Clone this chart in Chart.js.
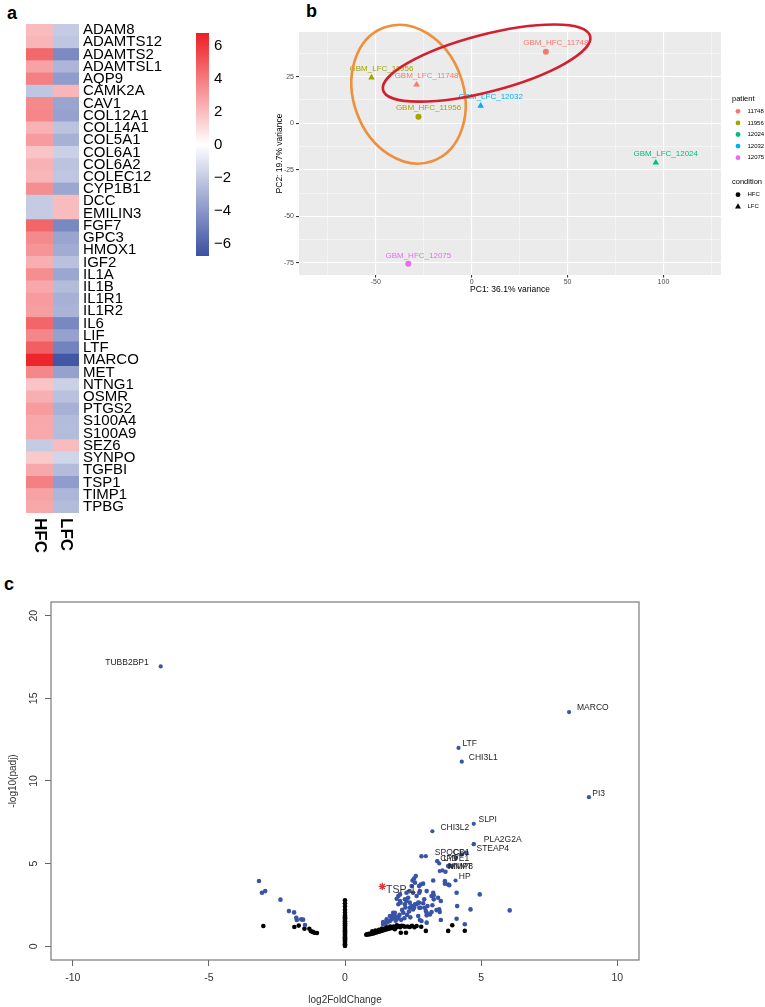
<!DOCTYPE html>
<html><head><meta charset="utf-8">
<script src="https://cdn.jsdelivr.net/npm/chart.js@4.4.1/dist/chart.umd.min.js"></script>
<style>
body{margin:0;width:765px;height:1007px;background:#fff;position:relative;overflow:hidden;font-family:"Liberation Sans",Arial,sans-serif;}
canvas{position:absolute;}
.lbl{position:absolute;font-weight:bold;font-size:18px;line-height:18px;color:#000;}
</style></head><body>
<div class="lbl" style="left:7px;top:4px">a</div>
<div class="lbl" style="left:306px;top:2px">b</div>
<div class="lbl" style="left:4px;top:575px">c</div>
<canvas id="heat" width="180" height="560" style="left:0;top:0"></canvas>
<canvas id="cbar" width="60" height="280" style="left:185px;top:0"></canvas>
<canvas id="pca" width="515" height="300" style="left:250px;top:0"></canvas>
<canvas id="volc" width="765" height="447" style="left:0;top:560px"></canvas>
<script>
// ---------- Panel a: heatmap data ----------
const genes = ['ADAM8','ADAMTS12','ADAMTS2','ADAMTSL1','AQP9','CAMK2A','CAV1','COL12A1','COL14A1','COL5A1','COL6A1','COL6A2','COLEC12','CYP1B1','DCC','EMILIN3','FGF7','GPC3','HMOX1','IGF2','IL1A','IL1B','IL1R1','IL1R2','IL6','LIF','LTF','MARCO','MET','NTNG1','OSMR','PTGS2','S100A4','S100A9','SEZ6','SYNPO','TGFBI','TSP1','TIMP1','TPBG'];
const hfcValues = [2.0,2.2,4.5,2.8,3.8,-2.2,3.5,3.6,2.3,3.0,1.8,2.3,2.2,3.4,-2.0,-2.0,4.6,3.5,3.2,2.4,3.4,2.6,3.0,2.9,4.6,3.6,4.8,6.5,3.6,1.8,2.4,3.0,2.6,2.6,-2.0,1.6,2.6,3.8,2.8,2.6];
const lfcValues = [-2.0,-2.2,-4.5,-2.8,-3.8,2.2,-3.5,-3.6,-2.3,-3.0,-1.8,-2.3,-2.2,-3.4,2.0,2.0,-4.6,-3.5,-3.2,-2.4,-3.4,-2.6,-3.0,-2.9,-4.6,-3.6,-4.8,-6.5,-3.6,-1.8,-2.4,-3.0,-2.6,-2.6,2.0,-1.6,-2.6,-3.8,-2.8,-2.6];
const heatColumns = ['HFC','LFC'];
const colorbarTicks = [-6,-4,-2,0,2,4,6];
const colorLimit = 6.75;

// ---------- Panel b: PCA data ----------
const pcaSamples = ['GBM_HFC_11748','GBM_LFC_11748','GBM_LFC_11956','GBM_HFC_11956','GBM_LFC_12032','GBM_LFC_12024','GBM_HFC_12075'];
const pcaPatient = ['11748','11748','11956','11956','12032','12024','12075'];
const pcaCondition = ['HFC','LFC','LFC','HFC','LFC','LFC','HFC'];
const pc1 = [38.7,-28.7,-52.2,-27.7,4.7,96.0,-33.0];
const pc2 = [38.4,20.7,24.5,3.5,9.4,-21.2,-75.5];
const patients = ['11748','11956','12024','12032','12075'];
const conditions = ['HFC','LFC'];
const pcaXMajor = [-50,0,50,100];
const pcaXMinor = [-75,-25,25,75,125];
const pcaYMajor = [-75,-50,-25,0,25];
const pcaYMinor = [-62.5,-37.5,-12.5,12.5,37.5];

// ---------- Panel c: volcano data ----------
const sigGenes = [[-3.16,3.95],[-3.05,3.24],[-2.93,3.34],[-2.37,2.82],[-2.06,2.13],[-1.87,2.05],[-1.79,1.73],[-1.77,1.59],[-1.61,1.63],[-1.54,1.61],[-1.47,1.29],
[1.4,1.33],[1.4,1.47],[1.45,1.38],[1.53,1.43],[1.53,1.63],[1.6,1.5],[1.65,1.53],[1.65,1.83],[1.7,1.62],[1.71,1.83],[1.77,2.03],[1.75,1.7],[1.83,1.83],[1.83,2.03],[1.86,1.55],[1.9,1.63],[1.9,2.88],[1.95,1.75],[1.96,2.54],[1.96,3.04],[2.0,1.9],[2.02,2.74],[2.02,3.14],[2.04,2.63],[2.06,1.6],[2.1,2.2],[2.14,2.03],[2.18,1.7],[2.2,2.54],[2.2,2.84],[2.22,2.35],[2.26,2.74],[2.26,3.24],[2.28,1.9],[2.32,2.94],[2.35,2.1],[2.37,3.34],[2.38,2.33],[2.38,2.64],[2.4,1.75],[2.45,2.43],[2.45,3.64],[2.48,3.98],[2.5,2.23],[2.5,3.24],[2.54,2.33],[2.54,4.1],[2.57,2.54],[2.57,3.85],[2.6,4.25],[2.63,2.54],[2.63,3.04],[2.69,1.83],[2.69,2.64],[2.72,2.63],[2.72,3.64],[2.73,2.33],[2.73,3.24],[2.75,1.59],[2.75,3.34],[2.78,2.33],[2.78,3.74],[2.81,1.53],[2.81,5.45],[2.87,2.6],[2.87,3.79],[2.91,2.84],[2.93,2.33],[2.97,2.13],[3.0,1.43],[3.0,1.87],[3.0,2.03],[3.0,3.34],[3.03,2.43],[3.12,1.93],[3.18,2.07],[3.18,3.04],[3.21,2.48],[3.24,3.24],[3.24,3.98],[3.26,2.84],[3.26,3.08],[3.36,2.19],[3.42,2.94],[3.46,2.23],[3.48,2.07],[3.52,1.59],[3.52,2.74],[3.67,3.79],[3.67,3.94],[3.69,4.51],[3.79,3.74],[3.79,4.85],[3.83,3.7],[3.91,4.85],[4.07,5.35],[4.1,1.67],[4.1,3.24],[4.12,2.43],[4.28,5.55],[4.4,1.33],[4.46,5.65],[4.61,2.23],[4.95,3.14],[6.05,2.17]];
const nsGenes = [[-3.0,1.23],[-1.86,1.17],[-1.70,1.25],[-1.49,1.06],[-1.31,1.06],[-1.25,0.91],[-1.18,0.87],[-1.12,0.82],[-1.03,0.80],
[0.78,0.70],[0.81,0.73],[0.85,0.71],[0.88,0.75],[0.92,0.73],[0.95,0.77],[0.98,0.76],[1.01,0.80],[1.04,0.78],[1.07,0.83],[1.09,0.81],[1.12,0.86],[1.15,0.84],[1.17,0.89],[1.2,0.87],[1.23,0.93],[1.26,0.9],[1.29,0.96],[1.31,0.92],[1.34,0.99],[1.37,0.95],[1.4,1.02],[1.43,0.98],[1.46,1.05],[1.48,1.01],[1.51,1.08],[1.55,1.03],[1.58,1.11],[1.61,1.06],[1.65,1.13],[1.68,1.09],[1.72,1.16],[1.75,1.11],[1.79,1.19],[1.83,1.03],[1.86,1.14],[1.9,1.27],[1.93,1.18],[1.98,1.22],[2.03,1.15],[2.05,0.82],[2.08,1.24],[2.14,1.23],[2.2,1.18],[2.24,0.82],[2.3,1.2],[2.38,1.17],[2.46,1.24],[2.55,1.15],[2.63,1.23],[2.8,1.18],[2.97,0.93],[3.79,0.93],[3.94,1.27],[4.4,0.94],[1.0,0.9],[1.12,0.95],[1.25,1.0],[1.36,1.08],[1.52,1.15],[1.66,1.2]];
const zeroFoldPadj = [2.78,2.6,2.41,2.2,2.04,1.9,1.83,1.75,1.68,1.6,1.52,1.47,1.39,1.31,1.26,1.18,1.1,1.04,0.97,0.9,0.84,0.76,0.7,0.62,0.55,0.49,0.41,0.35,0.27,0.2,0.13,0.07,0.02];
const labeledGenes = ['TUBB2BP1','MARCO','LTF','CHI3L1','PI3','SLPI','CHI3L2','PLA2G2A','STEAP4','SPOCD1','C6','CFD','LYVE1','NNMT','MMP8','HP'];
const labeledLFC  = [-6.77,8.23,4.17,4.29,8.96,4.73,3.21,4.73,4.73,2.97,3.39,3.46,3.39,3.48,3.58,4.06];
const labeledPadj = [16.93,14.17,12.0,11.17,9.02,7.41,6.96,6.18,6.18,5.45,5.15,5.01,5.15,4.55,4.59,3.98];
const tsp1 = {name:'TSP-1', lfc:1.37, padj:3.62};
const volcXTicks = [-10,-5,0,5,10];
const volcYTicks = [0,5,10,15,20];

// ---------- styling (not data) ----------
const FONT = '"Liberation Sans", Arial, sans-serif';
Chart.defaults.font.family = FONT;
Chart.defaults.animation = false;
Chart.defaults.responsive = false;
Chart.defaults.plugins.legend.display = false;
Chart.defaults.plugins.tooltip.enabled = false;

const RED = [236,30,36], BLUE = [58,80,162];
function heatColor(v){
  const t = Math.min(1, Math.abs(v)/colorLimit);
  const e = v >= 0 ? RED : BLUE;
  const c = e.map(ch => Math.round(255 + (ch-255)*t));
  return `rgb(${c[0]},${c[1]},${c[2]})`;
}

// ---------- Heatmap ----------
const heatLabels = {
  id:'heatLabels',
  afterDraw(chart){
    const {ctx, chartArea, scales:{x}} = chart;
    ctx.save();
    ctx.font = 'bold 17px ' + FONT;
    ctx.fillStyle = '#000';
    ctx.textAlign = 'left'; ctx.textBaseline = 'middle';
    heatColumns.forEach((c,i)=>{
      ctx.save();
      ctx.translate(x.getPixelForValue(i+0.5), chartArea.bottom + 5);
      ctx.rotate(Math.PI/2);
      ctx.fillText(c, 0, 0);
      ctx.restore();
    });
    ctx.restore();
  }
};
new Chart(document.getElementById('heat'), {
  type:'bar',
  data:{ labels: genes, datasets:[
    {label:'HFC', data: genes.map(()=>[0,1]), backgroundColor: hfcValues.map(heatColor)},
    {label:'LFC', data: genes.map(()=>[1,2]), backgroundColor: lfcValues.map(heatColor)}
  ]},
  options:{
    indexAxis:'y', grouped:false,
    datasets:{bar:{barPercentage:1, categoryPercentage:1, borderWidth:0}},
    layout:{padding:{left:26, top:24, bottom:47, right:0}},
    scales:{
      x:{type:'linear', min:0, max:2, display:false},
      y:{type:'category', position:'right', grid:{display:false, drawTicks:false, tickLength:0}, border:{display:false},
         ticks:{autoSkip:false, padding:4, color:'#000', font:{size:15}},
         afterFit(s){ s.width = 101; }}
    }
  },
  plugins:[heatLabels]
});

// ---------- Colour bar ----------
new Chart(document.getElementById('cbar'), {
  type:'bar',
  data:{ labels:['z'], datasets:[{ data:[[-colorLimit, colorLimit]],
    backgroundColor(ctx){
      const ca = ctx.chart.chartArea; if(!ca) return '#fff';
      const g = ctx.chart.ctx.createLinearGradient(0, ca.bottom, 0, ca.top);
      colorbarTicks.concat([-colorLimit, colorLimit]).sort((a,b)=>a-b).forEach(v=>{
        g.addColorStop((v+colorLimit)/(2*colorLimit), heatColor(v));
      });
      g.addColorStop(0.5, '#fff');
      return g;
    }}]},
  options:{
    datasets:{bar:{barPercentage:1, categoryPercentage:1, borderWidth:0}},
    layout:{padding:{left:11, top:33, bottom:24, right:0}},
    scales:{
      x:{display:false},
      y:{position:'right', min:-colorLimit, max:colorLimit, grid:{display:false, drawTicks:false, tickLength:0}, border:{display:false},
         afterBuildTicks(s){ s.ticks = colorbarTicks.map(v=>({value:v})); },
         ticks:{padding:5, color:'#000', font:{size:15}, callback:v=>String(v).replace('-', '\u2212')},
         afterFit(s){ s.width = 36; }}
    }
  }
});

// ---------- PCA ----------
const patientColors = {'11748':'#F8766D','11956':'#A3A500','12024':'#00BF7D','12032':'#00B0F6','12075':'#E76BF3'};
const pcaEllipses = [
  {cx:-32.9, cy:15.6, rx:71, ry:55, rot:70, color:'#EF8F3C'},
  {cx:7.8, cy:32.3, rx:107, ry:28.5, rot:-14.6, color:'#D2202F'}
];
const pcaPlugin = {
  id:'pcaExtras',
  beforeDraw(chart){
    const {ctx, chartArea:a} = chart;
    ctx.save(); ctx.fillStyle = '#EBEBEB'; ctx.fillRect(a.left, a.top, a.right-a.left, a.bottom-a.top); ctx.restore();
  },
  afterDatasetsDraw(chart){
    const {ctx, scales:{x,y}} = chart;
    ctx.save();
    ctx.font = '8px ' + FONT; ctx.textAlign = 'center'; ctx.textBaseline = 'middle';
    pcaSamples.forEach((s,i)=>{
      ctx.fillStyle = patientColors[pcaPatient[i]];
      ctx.fillText(s, x.getPixelForValue(pc1[i]) + 10, y.getPixelForValue(pc2[i]) - 8.5);
    });
    pcaEllipses.forEach(e=>{
      ctx.beginPath();
      ctx.ellipse(x.getPixelForValue(e.cx), y.getPixelForValue(e.cy), e.rx, e.ry, e.rot*Math.PI/180, 0, 2*Math.PI);
      ctx.strokeStyle = e.color; ctx.lineWidth = 2.6; ctx.stroke();
    });
    ctx.restore();
  },
  afterDraw(chart){
    const {ctx, chartArea:a} = chart;
    const lx = a.right + 11;
    ctx.save();
    ctx.fillStyle = '#000'; ctx.textBaseline = 'middle'; ctx.textAlign = 'left';
    ctx.font = '7.5px ' + FONT;
    ctx.fillText('patient', lx, a.top + 67);
    ctx.font = '6px ' + FONT;
    patients.forEach((p,i)=>{
      const yy = a.top + 79.3 + i*11.6;
      ctx.fillStyle = patientColors[p];
      ctx.beginPath(); ctx.arc(lx + 6, yy, 2.4, 0, 2*Math.PI); ctx.fill();
      ctx.fillStyle = '#000'; ctx.fillText(p, lx + 15.5, yy);
    });
    ctx.font = '7.5px ' + FONT;
    ctx.fillText('condition', lx, a.top + 150);
    ctx.font = '6px ' + FONT;
    conditions.forEach((c,i)=>{
      const yy = a.top + 162.7 + i*11.6;
      ctx.fillStyle = '#000';
      ctx.beginPath();
      if(c==='HFC'){ ctx.arc(lx + 6, yy, 2.4, 0, 2*Math.PI); }
      else { ctx.moveTo(lx+6, yy-3); ctx.lineTo(lx+9, yy+2.2); ctx.lineTo(lx+3, yy+2.2); ctx.closePath(); }
      ctx.fill();
      ctx.fillText(c, lx + 15.5, yy);
    });
    ctx.restore();
  }
};
const isMajor = (arr, v) => arr.some(m => Math.abs(m - v) < 1e-6);
new Chart(document.getElementById('pca'), {
  type:'scatter',
  data:{ datasets:[{
    data: pc1.map((v,i)=>({x:v, y:pc2[i]})),
    pointBackgroundColor: pcaPatient.map(p=>patientColors[p]),
    pointBorderWidth: 0,
    pointStyle: pcaCondition.map(c=> c==='HFC' ? 'circle' : 'triangle'),
    pointRadius: pcaCondition.map(c=> c==='HFC' ? 3 : 3.8)
  }]},
  options:{
    layout:{padding:{left:0, top:32, right:44, bottom:0}},
    scales:{
      x:{type:'linear', min:-90, max:130,
         afterBuildTicks(s){ s.ticks = pcaXMajor.concat(pcaXMinor).sort((a,b)=>a-b).map(v=>({value:v})); },
         grid:{color:'#fff', lineWidth:c=> isMajor(pcaXMajor, c.tick.value) ? 1.1 : 0.5,
               tickColor:c=> isMajor(pcaXMajor, c.tick.value) ? '#333' : 'rgba(0,0,0,0)', tickLength:2.5},
         border:{display:false},
         ticks:{padding:0, color:'#4D4D4D', font:{size:7}, maxRotation:0, autoSkip:false,
                callback:v=> isMajor(pcaXMajor, v) ? String(v) : ''},
         title:{display:true, text:'PC1: 36.1% variance', color:'#000', font:{size:8.5}, padding:{top:0, bottom:5}},
         afterFit(s){ s.height = 25; }},
      y:{type:'linear', min:-81.5, max:49,
         afterBuildTicks(s){ s.ticks = pcaYMajor.concat(pcaYMinor).sort((a,b)=>a-b).map(v=>({value:v})); },
         grid:{color:'#fff', lineWidth:c=> isMajor(pcaYMajor, c.tick.value) ? 1.1 : 0.5,
               tickColor:c=> isMajor(pcaYMajor, c.tick.value) ? '#333' : 'rgba(0,0,0,0)', tickLength:3},
         border:{display:false},
         ticks:{padding:2, color:'#4D4D4D', font:{size:7}, autoSkip:false,
                callback:v=> isMajor(pcaYMajor, v) ? String(v) : ''},
         title:{display:true, text:'PC2: 19.7% variance', color:'#000', font:{size:8.5}, padding:{top:25, bottom:0}},
         afterFit(s){ s.width = 49; }}
    }
  },
  plugins:[pcaPlugin]
});

// ---------- Volcano ----------
const labelOffsets = {
  TUBB2BP1:[-12,-4,'right'], MARCO:[8,-4.6,'left'], LTF:[4,-4.6,'left'], CHI3L1:[7,-4,'left'],
  PI3:[3.4,-4,'left'], SLPI:[4.7,-4,'left'], CHI3L2:[8,-4,'left'], PLA2G2A:[10,-4,'left'],
  STEAP4:[2.7,4.3,'left'], SPOCD1:[9,-4,'left'], C6:[16,-9,'left'], CFD:[1,-4.7,'left'],
  LYVE1:[6,-2.4,'left'], NNMT:[8,-4.4,'left'], MMP8:[6,-3.7,'left'], HP:[3.3,-4,'left']
};
const BLUEPT = '#3953A6';
const volcPlugin = {
  id:'volcExtras',
  afterDraw(chart){
    const {ctx, chartArea:a, scales:{x,y}} = chart;
    ctx.save();
    ctx.strokeStyle = '#7a7a7a'; ctx.lineWidth = 1.2;
    ctx.strokeRect(a.left, a.top, a.right-a.left, a.bottom-a.top);
    ctx.fillStyle = '#333'; ctx.font = '10.5px ' + FONT; ctx.textAlign = 'center'; ctx.textBaseline = 'middle';
    volcYTicks.forEach(v=>{
      ctx.save(); ctx.translate(a.left - 17, y.getPixelForValue(v)); ctx.rotate(-Math.PI/2);
      ctx.fillText(String(v), 0, 0); ctx.restore();
    });
    ctx.font = '8.5px ' + FONT; ctx.fillStyle = '#222'; ctx.textBaseline = 'middle';
    labeledGenes.forEach((g,i)=>{
      const o = labelOffsets[g];
      ctx.textAlign = o[2];
      ctx.fillText(g, x.getPixelForValue(labeledLFC[i]) + o[0], y.getPixelForValue(labeledPadj[i]) + o[1]);
    });
    ctx.font = '10.5px ' + FONT; ctx.fillStyle = '#333'; ctx.textAlign = 'left';
    ctx.fillText(tsp1.name, x.getPixelForValue(tsp1.lfc) + 3.7, y.getPixelForValue(tsp1.padj) + 3.7);
    ctx.restore();
  }
};
new Chart(document.getElementById('volc'), {
  type:'scatter',
  data:{ datasets:[
    {data:[{x:tsp1.lfc, y:tsp1.padj}], pointStyle:'star', pointRadius:3.6, pointBorderColor:'#E0353B', pointBorderWidth:1.3, pointBackgroundColor:'#E0353B'},
    {data: labeledLFC.map((v,i)=>({x:v, y:labeledPadj[i]})), pointRadius:2.1, pointBorderWidth:0, pointBackgroundColor:BLUEPT},
    {data: sigGenes.map(p=>({x:p[0], y:p[1]})), pointRadius:2.3, pointBorderWidth:0, pointBackgroundColor:BLUEPT},
    {data: nsGenes.map(p=>({x:p[0], y:p[1]})).concat(zeroFoldPadj.map(v=>({x:0, y:v}))), pointRadius:2.3, pointBorderWidth:0, pointBackgroundColor:'#000'}
  ]},
  options:{
    layout:{padding:{left:0, top:42, right:126, bottom:0}},
    scales:{
      x:{type:'linear', min:-10.8, max:10.8,
         afterBuildTicks(s){ s.ticks = volcXTicks.map(v=>({value:v})); },
         grid:{drawOnChartArea:false, tickLength:6, tickColor:'#666', lineWidth:1},
         border:{display:false},
         ticks:{padding:6, color:'#333', font:{size:10.5}, maxRotation:0, autoSkip:false, callback:v=>String(v)},
         title:{display:true, text:'log2FoldChange', color:'#333', font:{size:10}, padding:{top:0, bottom:1}},
         afterFit(s){ s.height = 47; }},
      y:{type:'linear', min:-0.83, max:20.83,
         afterBuildTicks(s){ s.ticks = volcYTicks.map(v=>({value:v})); },
         grid:{drawOnChartArea:false, tickLength:6, tickColor:'#666', lineWidth:1},
         border:{display:false},
         ticks:{padding:0, callback:()=>''},
         title:{display:true, text:'-log10(padj)', color:'#333', font:{size:10}, padding:{top:7, bottom:0}},
         afterFit(s){ s.width = 51; }}
    }
  },
  plugins:[volcPlugin]
});
</script>
</body></html>
